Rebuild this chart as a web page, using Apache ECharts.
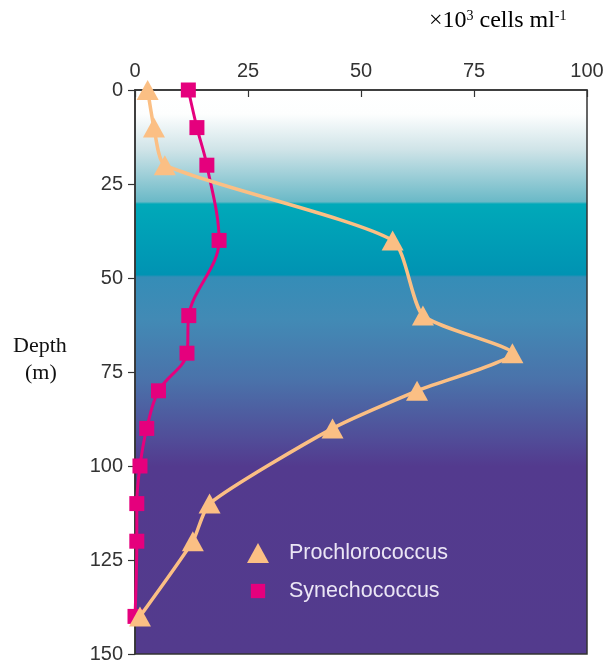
<!DOCTYPE html>
<html><head><meta charset="utf-8">
<script src="https://cdn.jsdelivr.net/npm/echarts@6/dist/echarts.min.js"></script>
<style>html,body{margin:0;padding:0;background:#fff}#c{width:608px;height:666px}</style>
</head><body><div id="c"></div>
<script>
const depths = [0, 10, 20, 40, 60, 70, 80, 90, 100, 110, 120, 140];
const prochloroDepths = [0, 10, 20, 40, 60, 70, 80, 90, 110, 120, 140];
const prochloroValues = [2.8, 4.2, 6.6, 57, 63.7, 83.5, 62.4, 43.7, 16.5, 12.8, 1.1];
const synechoValues = [11.8, 13.7, 15.9, 18.6, 11.9, 11.5, 5.2, 2.6, 1.1, 0.4, 0.4, 0];
const xTicks = [0, 25, 50, 75, 100];
const yTicks = [0, 25, 50, 75, 100, 125, 150];
const seriesNames = ['Prochlorococcus', 'Synechococcus'];

const chart = echarts.init(document.getElementById('c'), null, {renderer: 'canvas'});
const sans = '"Liberation Sans", Arial, sans-serif';
const serif = '"Liberation Serif", "Times New Roman", serif';

const bg = {
  type: 'linear', x: 0, y: 0, x2: 0, y2: 1,
  colorStops: [
    {offset: 0, color: '#ffffff'},
    {offset: 0.044, color: '#fdfefe'},
    {offset: 0.106, color: '#d0e4e8'},
    {offset: 0.199, color: '#6ab9c7'},
    {offset: 0.203, color: '#00a9b9'},
    {offset: 0.328, color: '#0093b3'},
    {offset: 0.332, color: '#358db7'},
    {offset: 0.408, color: '#428ab5'},
    {offset: 0.514, color: '#4a72aa'},
    {offset: 0.62, color: '#514c98'},
    {offset: 0.667, color: '#533a8e'},
    {offset: 1, color: '#533b8d'}
  ]
};

chart.setOption({
  animation: false,
  grid: {left: 135, right: 21, top: 90, bottom: 12, show: true,
    backgroundColor: bg, borderColor: '#333', borderWidth: 1.5},
  xAxis: {
    type: 'value', position: 'top', min: xTicks[0], max: xTicks[xTicks.length - 1], interval: 25,
    axisLine: {show: true, lineStyle: {color: '#333', width: 1.5}},
    axisTick: {show: true, inside: true, length: 7, lineStyle: {color: '#333', width: 1.2}},
    axisLabel: {color: '#333', fontFamily: sans, fontSize: 20, margin: 9},
    splitLine: {show: false}
  },
  yAxis: {
    type: 'value', inverse: true, min: yTicks[0], max: yTicks[yTicks.length - 1], interval: 25,
    axisLine: {show: true, lineStyle: {color: '#333', width: 1.5}},
    axisTick: {show: true, inside: false, length: 7, lineStyle: {color: '#333', width: 1.2}},
    axisLabel: {color: '#333', fontFamily: sans, fontSize: 20, margin: 12},
    splitLine: {show: false}
  },
  legend: {
    orient: 'vertical', left: 247, top: 542, padding: 0, itemWidth: 52, itemHeight: 20, itemGap: 16,
    data: [
      {name: seriesNames[0], icon: 'path://M5.5,0L11,10L0,10Z'},
      {name: seriesNames[1], icon: 'path://M-2,-2M12,12M0,0L10,0L10,10L0,10Z'}
    ],
    textStyle: {color: '#ebe6f5', fontFamily: sans, fontSize: 21.5}
  },
  series: [
    {
      name: seriesNames[1], type: 'line', smooth: 0.35,
      data: synechoValues.map((v, i) => [v, depths[i]]),
      symbol: 'rect', symbolSize: 15,
      lineStyle: {color: '#e5007d', width: 3},
      itemStyle: {color: '#e5007d'}, z: 2
    },
    {
      name: seriesNames[0], type: 'line', smooth: 0.2,
      data: prochloroValues.map((v, i) => [v, prochloroDepths[i]]),
      symbol: 'triangle', symbolSize: [22, 20],
      lineStyle: {color: '#fbbf84', width: 3.5},
      itemStyle: {color: '#fbbf84'}, z: 3
    }
  ],
  graphic: [
    {type: 'text', left: 13, top: 335, style: {text: 'Depth', font: '22px ' + serif, fill: '#111'}},
    {type: 'text', left: 25, top: 362, style: {text: '(m)', font: '22px ' + serif, fill: '#111'}},
    {type: 'text', left: 429, top: 9, style: {
      text: '{a|×10}{s|3}{a| cells ml}{s|-1}',
      rich: {
        a: {fontFamily: serif, fontSize: 24, color: '#111'},
        s: {fontFamily: serif, fontSize: 14, color: '#111', verticalAlign: 'top', padding: [0, 0, 10, 0]}
      }
    }}
  ]
});
</script></body></html>
